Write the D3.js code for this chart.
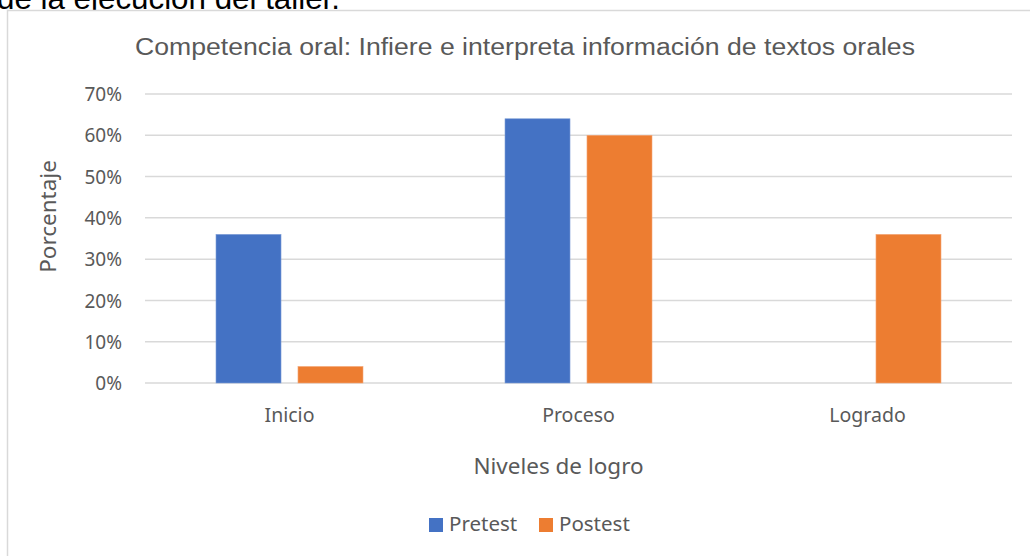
<!DOCTYPE html>
<html>
<head>
<meta charset="utf-8">
<script src="https://cdn.jsdelivr.net/npm/d3@7"></script>
<style>
	body { margin: 0; background: #fff; }
	svg { display: block; }
	text { fill: #595959; }
</style>
</head>
<body>
<svg id="svg" width="1030" height="556"></svg>
<script>
// chart data
const categories = ['Inicio', 'Proceso', 'Logrado'];
const seriesNames = ['Pretest', 'Postest'];
const pretest = [0.36, 0.64, 0];
const postest = [0.04, 0.60, 0.36];
const yTicks = [0, 0.1, 0.2, 0.3, 0.4, 0.5, 0.6, 0.7];

const colors = { Pretest: '#4472C4', Postest: '#ED7D31' };
const labelFont = '"Noto Sans", "Open Sans", sans-serif';

let svg = d3.select('#svg');

// text cut off above the chart frame (from the document)
svg.append('text')
	.attr('x', -3).attr('y', 9)
	.attr('textLength', 343).attr('lengthAdjust', 'spacingAndGlyphs')
	.style('font-family', '"Liberation Sans", Arial, sans-serif')
	.style('font-size', '31px')
	.style('fill', '#000')
	.text('de la ejecución del taller.');

// chart frame
svg.append('rect')
	.attr('x', 7.5).attr('y', 10.5)
	.attr('width', 1040).attr('height', 560)
	.attr('fill', '#fff')
	.attr('stroke', '#d9d9d9').attr('stroke-width', 1.5);

let x0 = d3.scaleBand().domain(categories).range([145, 1012]);
let x1 = d3.scaleBand().domain(seriesNames).range([71, x0.bandwidth() - 71]).paddingInner(0.207);
let y = d3.scaleLinear().domain([0, 0.7]).range([383, 94]);

// gridlines
svg.append('g')
	.selectAll('line')
	.data(yTicks)
	.enter().append('line')
	.attr('x1', 145).attr('x2', 1012)
	.attr('y1', d => y(d)).attr('y2', d => y(d))
	.attr('stroke', '#d9d9d9').attr('stroke-width', 1.5);

// y axis labels
let yAxis = d3.axisLeft(y).tickValues(yTicks).tickFormat(d3.format('.0%')).tickSize(0).tickPadding(0);
svg.append('g')
	.attr('transform', 'translate(122,0)')
	.call(yAxis)
	.call(g => g.select('.domain').remove())
	.selectAll('text')
	.attr('dy', '0.35em')
	.style('font-family', labelFont)
	.style('font-size', '19px')
	.style('fill', '#595959');

// bars
let rows = categories.map((c, i) => ({ cat: c, values: [
	{ key: 'Pretest', value: pretest[i] },
	{ key: 'Postest', value: postest[i] },
] }));

let groups = svg.append('g')
	.selectAll('g')
	.data(rows)
	.enter().append('g')
	.attr('transform', d => `translate(${x0(d.cat)},0)`);

groups.selectAll('rect')
	.data(d => d.values.filter(v => v.value > 0))
	.enter().append('rect')
	.attr('x', d => x1(d.key))
	.attr('y', d => y(d.value))
	.attr('width', x1.bandwidth())
	.attr('height', d => y(0) - y(d.value))
	.attr('fill', d => colors[d.key])
	.attr('stroke', d => d.key === 'Pretest' ? '#7f9fd8' : '#f3a778')
	.attr('stroke-width', 0.6);

// x axis labels
let xAxis = d3.axisBottom(x0).tickSize(0).tickPadding(0);
svg.append('g')
	.attr('transform', 'translate(0,422)')
	.call(xAxis)
	.call(g => g.select('.domain').remove())
	.selectAll('text')
	.attr('dy', 0)
	.style('font-family', labelFont)
	.style('font-size', '19.5px')
	.style('fill', '#595959');

// titles
svg.append('text')
	.attr('x', 525).attr('y', 55)
	.attr('text-anchor', 'middle')
	.attr('textLength', 780).attr('lengthAdjust', 'spacingAndGlyphs')
	.style('font-family', '"Liberation Sans", Arial, sans-serif')
	.style('font-size', '23px')
	.text('Competencia oral: Infiere e interpreta información de textos orales');

svg.append('text')
	.attr('transform', 'translate(56,216.5) rotate(-90)')
	.attr('text-anchor', 'middle')
	.style('font-family', labelFont)
	.style('font-size', '22.5px')
	.text('Porcentaje');

svg.append('text')
	.attr('x', 558.5).attr('y', 474)
	.attr('text-anchor', 'middle')
	.style('font-family', labelFont)
	.style('font-size', '22.5px')
	.text('Niveles de logro');

// legend
let legendX = [429, 539];
let legend = svg.append('g')
	.selectAll('g')
	.data(seriesNames)
	.enter().append('g')
	.attr('transform', (d, i) => `translate(${legendX[i]},518)`);
legend.append('rect')
	.attr('width', 14).attr('height', 14)
	.attr('fill', d => colors[d]);
legend.append('text')
	.attr('x', 20).attr('y', 13)
	.style('font-family', labelFont)
	.style('font-size', '20.5px')
	.text(d => d);
</script>
</body>
</html>
